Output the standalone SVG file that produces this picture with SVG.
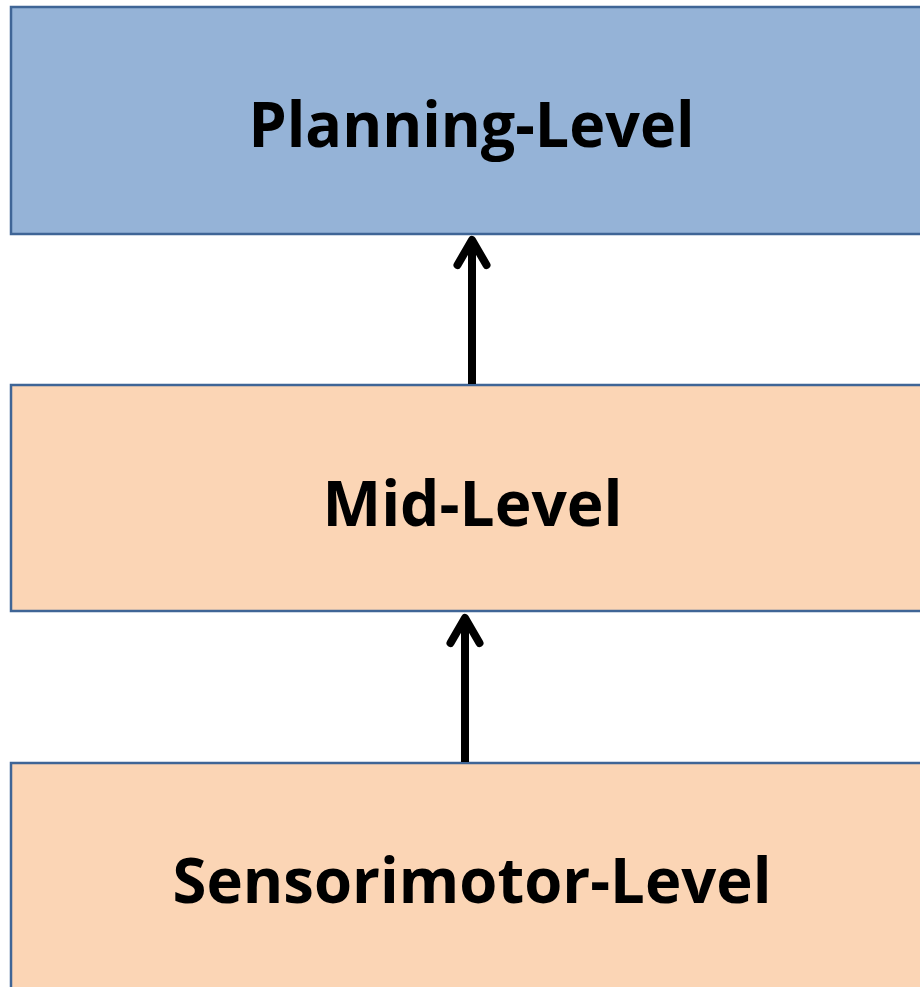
<svg xmlns="http://www.w3.org/2000/svg" width="920" height="987" viewBox="0 0 920 987">
  <style>
    .box { stroke: #3F6596; stroke-width: 2.5; }
    .plan { fill: #95B3D7; }
    .warm { fill: #FBD5B5; }
    .label { font-family: "Open Sans", "Liberation Sans", sans-serif; font-weight: bold; font-size: 63px; fill: #000; text-anchor: middle; }
    .conn { stroke: #000; stroke-width: 8; fill: none; stroke-linecap: round; stroke-linejoin: round; }
  </style>
  <rect width="920" height="987" fill="#fff"/>
  <g id="planning">
    <rect class="box plan" x="11" y="7" width="920" height="227"/>
    <text class="label" x="471.5" y="147" textLength="446" lengthAdjust="spacingAndGlyphs">Planning-Level</text>
  </g>
  <g id="mid">
    <rect class="box warm" x="11" y="385" width="920" height="226"/>
    <text class="label" x="472.5" y="526" textLength="300" lengthAdjust="spacingAndGlyphs">Mid-Level</text>
  </g>
  <g id="sensorimotor">
    <rect class="box warm" x="11" y="763" width="920" height="240"/>
    <text class="label" x="472" y="903" textLength="599" lengthAdjust="spacingAndGlyphs">Sensorimotor-Level</text>
  </g>
  <g id="connectors">
    <path class="conn" d="M472 384 V240" style="stroke-linecap:butt"/>
    <path class="conn" d="M457.5 265 L472 240 L486.5 265"/>
    <path class="conn" d="M465 762 V618" style="stroke-linecap:butt"/>
    <path class="conn" d="M450.5 643 L465 618 L479.5 643"/>
  </g>
</svg>
